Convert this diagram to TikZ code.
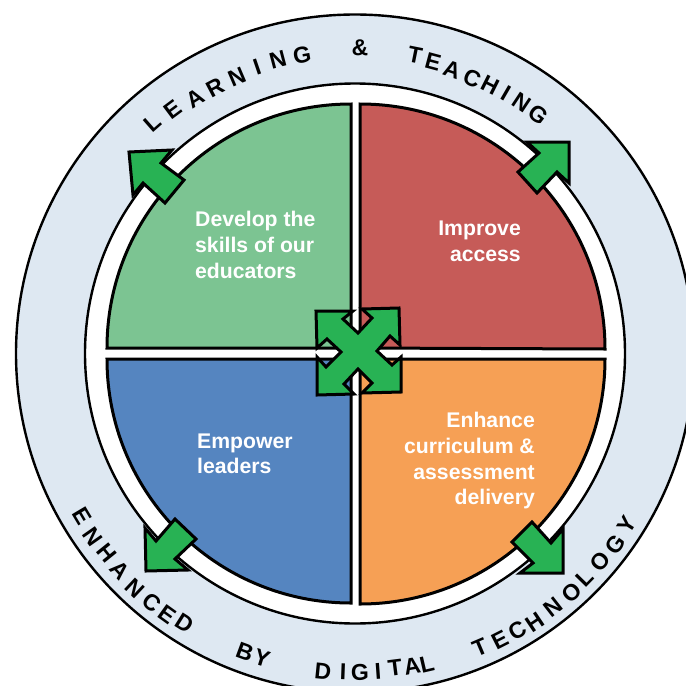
\documentclass[tikz,border=0pt]{standalone}
\usepackage{fontspec}
\setmainfont{Liberation Sans}
\definecolor{ringblue}{HTML}{DEE8F2}
\definecolor{qgreen}{HTML}{7CC492}
\definecolor{qred}{HTML}{C65B58}
\definecolor{qblue}{HTML}{5585C0}
\definecolor{qorange}{HTML}{F6A055}
\definecolor{arrowgreen}{HTML}{28B254}
\tikzset{
  ringline/.style={draw=black,line width=2.4pt},
  quad/.style={draw=black,line width=3pt,line join=miter},
  arrowshape/.style={draw=black,fill=arrowgreen,line width=3pt,line join=miter},
  quadlabel/.style={text=white,font=\bfseries\fontsize{21.2}{24}\selectfont,inner sep=0pt},
  ringletter/.style={text=black,font=\bfseries\fontsize{23}{24}\selectfont,inner sep=0pt}
}
\begin{document}
\begin{tikzpicture}[x=1pt,y=-1pt]
\useasboundingbox (0,0) rectangle (686,686);
\clip (0,0) rectangle (686,686);
\fill[white] (0,0) rectangle (686,686);
\draw[ringline,fill=ringblue] (355,353.5) circle[radius=339pt];
\draw[ringline,fill=white] (355,353.5) circle[radius=270pt];
% quadrants
\draw[quad,fill=qgreen] (351,348) -- (107,348) arc[start angle=180,end angle=90,radius=244pt] -- cycle;
\draw[quad,fill=qred] (360,348) -- (360,104) arc[start angle=90,end angle=0,radius=245pt] -- cycle;
\draw[quad,fill=qblue] (351,359) -- (351,603) arc[start angle=270,end angle=180,radius=244pt] -- cycle;
\draw[quad,fill=qorange] (360,359) -- (605,359) arc[start angle=0,end angle=-90,radius=245pt] -- cycle;
% arrows
\draw[arrowshape] (129,152) -- (172,150) -- (161,163) -- (184,180) -- (165,203) -- (143,183) -- (133,195) -- cycle;
\draw[arrowshape] (569,142) -- (527,142) -- (539,153) -- (518,172) -- (537,193) -- (557,172) -- (569,183) -- cycle;
\draw[arrowshape] (146,571) -- (145,528) -- (156,541) -- (175,519) -- (196,539) -- (175,559) -- (188,570) -- cycle;
\draw[arrowshape] (563,573) -- (563,529) -- (551,543) -- (532,522) -- (512,542) -- (533,563) -- (520,573) -- cycle;
% centre cross
\draw[arrowshape] (316,311) -- (353,311) -- (343,319) -- (358,333) -- (372,318) -- (362,309) -- (399,308)
  -- (400,345) -- (390,336) -- (377,351) -- (392,365) -- (401,357) -- (401,392)
  -- (362,393) -- (372,383) -- (358,369) -- (344,384) -- (354,394) -- (317,395)
  -- (317,357) -- (326,367) -- (341,352) -- (327,339) -- (317,348) -- cycle;
% labels
\node[quadlabel,anchor=base west] (l1a) at (195,226) {Develop the};
\node[quadlabel,anchor=base west] (l1b) at (195,252.5) {skills of our};
\node[quadlabel,anchor=base west] (l1c) at (195,278) {educators};
\node[quadlabel,anchor=base east] (l2a) at (521,235) {Improve};
\node[quadlabel,anchor=base east] (l2b) at (521,261.5) {access};
\node[quadlabel,anchor=base west] (l3a) at (197,448) {Empower};
\node[quadlabel,anchor=base west] (l3b) at (197,473) {leaders};
\node[quadlabel,anchor=base east] (l4a) at (535,427) {Enhance};
\node[quadlabel,anchor=base east] (l4b) at (535,453) {curriculum \&};
\node[quadlabel,anchor=base east] (l4c) at (535,479) {assessment};
\node[quadlabel,anchor=base east] (l4d) at (535,504) {delivery};
% ring text, upper
\foreach \c/\px/\py [count=\i] in {L/153/123,E/173/110,A/195/98,R/215/88,N/237/77,I/257/67,N/278/60,G/302/55,
  \&/360/48,T/415/55,E/433/62,A/452/70,C/472/78,H/490/85,I/506/93,N/522/102,G/538/115}{
  \pgfmathsetmacro\rot{atan2(353.5-\py,\px-355)-90}
  \node[ringletter,rotate=\rot] (up\i) at (\px,\py) {\c};
}
% ring text, lower
\foreach \c/\px/\py [count=\i] in {E/82/516,N/93/537,H/107/553,A/120/570,N/135/588,C/152/603,E/167/615,D/185/623,
  B/245/652,Y/262/658,D/323/671,I/343/672,G/360/672,I/378/671,T/395/668,A/412/666,L/427/664,
  T/480/647,E/500/640,C/518/630,H/535/622,N/553/607,O/572/593,L/585/578,O/600/562,G/615/545,Y/627/525}{
  \pgfmathsetmacro\rot{atan2(353.5-\py,\px-355)+90}
  \node[ringletter,rotate=\rot] (lo\i) at (\px,\py) {\c};
}
\end{tikzpicture}
\end{document}
